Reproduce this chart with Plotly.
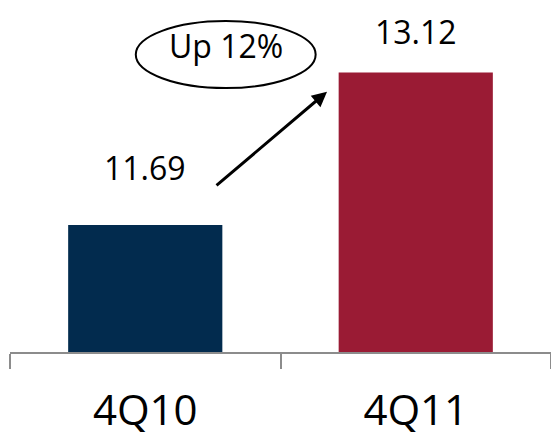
import plotly.graph_objects as go

categories = ["4Q10", "4Q11"]
values = [11.69, 13.12]
value_labels = ["11.69", "13.12"]
bar_colors = ["#022B4E", "#9A1B34"]
callout_text = "Up 12%"

FONT = "Open Sans"

fig = go.Figure()
fig.add_trace(go.Bar(
    x=categories, y=values, width=0.57,
    marker=dict(color=bar_colors, line=dict(width=0)),
    hoverinfo="skip",
))

# value labels above bars
shifts = [58, 41]
for c, v, t, s in zip(categories, values, value_labels, shifts):
    fig.add_annotation(x=c, y=v, text=t, showarrow=False, yanchor="middle",
                       yshift=s, font=dict(family=FONT, size=32, color="black"))

# arrow
fig.add_annotation(x=0.672, y=12.94, ax=0.258, ay=12.05, xref="x", yref="y",
                   axref="x", ayref="y", text="", showarrow=True,
                   arrowhead=2, arrowsize=1, arrowwidth=3, arrowcolor="black")

# ellipse callout
fig.add_shape(type="circle", xref="x", yref="y", x0=-0.035, x1=0.630,
              y0=12.975, y1=13.603, line=dict(color="black", width=2),
              fillcolor="white", layer="below")
fig.add_annotation(x=0.300, y=13.37, xref="x", yref="y", text=callout_text,
                   showarrow=False, font=dict(family=FONT, size=32, color="black"))

fig.update_layout(
    width=551, height=436,
    margin=dict(l=10, r=0, t=0, b=84, autoexpand=False),
    plot_bgcolor="white", paper_bgcolor="white",
    showlegend=False,
    xaxis=dict(showline=True, linecolor="#8C8C8C", linewidth=2,
               ticks="outside", tickson="boundaries", ticklen=15,
               tickcolor="#8C8C8C", tickwidth=2, automargin=False,
               tickfont=dict(family=FONT, size=42, color="black"),
               ticklabelstandoff=21,
               showgrid=False, zeroline=False),
    yaxis=dict(range=[10.5, 13.8], visible=False, showgrid=False,
               zeroline=False, automargin=False),
)

fig.write_html("out.html", config={"displayModeBar": False},
               post_script="document.body.style.margin='0';document.body.style.overflow='hidden';")
